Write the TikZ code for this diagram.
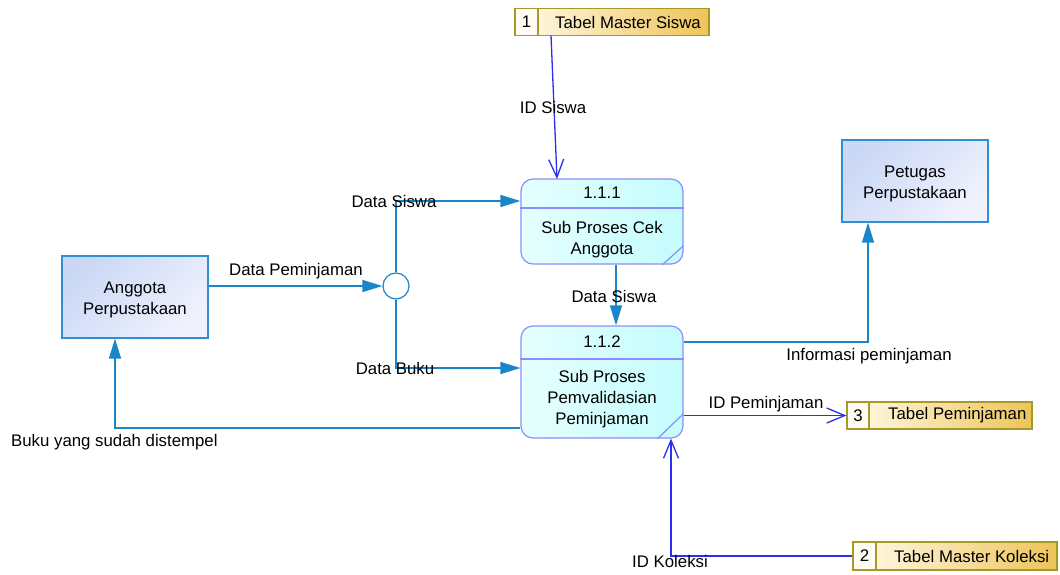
\documentclass[tikz,border=0pt]{standalone}
\usepackage{fontspec}
\setmainfont{Liberation Sans}
\usetikzlibrary{arrows.meta,calc}

\definecolor{flowc}{HTML}{1A85C8}
\definecolor{idc}{HTML}{2E2EF0}
\definecolor{procb}{HTML}{8C8CFF}
\definecolor{procA}{HTML}{E6FFFF}
\definecolor{procB}{HTML}{C4FCFC}
\definecolor{entb}{HTML}{2F8FD0}
\definecolor{entA}{HTML}{CAD8F6}
\definecolor{entB}{HTML}{F0F2FD}
\definecolor{storeb}{HTML}{A8982A}
\definecolor{storeA}{HTML}{FFFBEA}
\definecolor{storeB}{HTML}{EEC458}
\definecolor{storeN}{HTML}{FFFDF3}

\tikzset{
  every node/.style={font=\fontsize{16.8}{21}\selectfont, inner sep=0pt, align=center},
  entity/.style={draw=entb, line width=1.2pt, minimum width=146pt, minimum height=82pt,
    shading=axis, left color=entA, right color=entB, shading angle=45},
  procbox/.style={draw=procb, line width=1.2pt, rounded corners=12pt,
    minimum width=162pt, left color=procA, right color=procB},
  storebox/.style={draw=storeb, line width=1.2pt, left color=storeA, right color=storeB},
  storenum/.style={draw=storeb, line width=1.2pt, fill=storeN, anchor=west},
  junction/.style={circle, draw=flowc, line width=1.2pt, fill=white, minimum size=26pt},
  flow/.style={draw=flowc, line width=1.3pt, -{Triangle[length=20pt,width=12pt]}},
  idflow/.style={draw=idc, line width=1.3pt, -{Straight Barb[length=18pt,width=15pt,line width=1.3pt]}},
  lbl/.style={text=black, fill=none}
}

\begin{document}
\begin{tikzpicture}[x=1pt,y=-1pt]
\useasboundingbox (0,0) rectangle (1060,574);

% external entities
\node[entity] (ang) at (135,297) {};
\node (angt) at (135,300) {Anggota\\Perpustakaan};
\node[entity] (pet) at (915,181) {};
\node (pett) at (915,184) {Petugas\\Perpustakaan};

% processes
\node[procbox, minimum height=85pt] (p1) at (602,221.5) {};
\draw[procb, line width=1.2pt] (p1.west |- 0,208) -- (p1.east |- 0,208);
\draw[procb, line width=1.2pt] ($(p1.south east)+(0,-19)$) -- ($(p1.south east)+(-21,0)$);
\node (p1id) at (602,193) {1.1.1};
\node (p1t) at (602,240) {Sub Proses Cek\\Anggota};

\node[procbox, minimum height=112pt] (p2) at (602,382) {};
\draw[procb, line width=1.2pt] (p2.west |- 0,359) -- (p2.east |- 0,359);
\draw[procb, line width=1.2pt] ($(p2.south east)+(0,-25)$) -- ($(p2.south east)+(-26,0)$);
\node (p2id) at (602,342) {1.1.2};
\node (p2t) at (602,399.5) {Sub Proses\\Pemvalidasian\\Peminjaman};

% data stores
\node[storebox, minimum width=194pt, minimum height=27pt] (ds1) at (612,22) {};
\node[storenum, minimum width=23pt, minimum height=27pt] (ds1n) at (ds1.west) {1};
\node[anchor=west] (ds1t) at (555,22) {Tabel Master Siswa};

\node[storebox, minimum width=185pt, minimum height=27pt] (ds3) at (939.5,415.5) {};
\node[storenum, minimum width=22pt, minimum height=27pt] (ds3n) at (ds3.west) {3};
\node[anchor=west] (ds3t) at (888,415.5) {Tabel Peminjaman};

\node[storebox, minimum width=204pt, minimum height=28pt] (ds2) at (955,556) {};
\node[storenum, minimum width=23pt, minimum height=28pt] (ds2n) at (ds2.west) {2};
\node[anchor=west] (ds2t) at (894,556) {Tabel Master Koleksi};

% junction
\node[junction] (jn) at (396,286) {};

% flows
\draw[flow] (ang.east |- jn.west) -- (jn.west);
\coordinate (jt) at (jn.north |- 0,201);
\coordinate (jb) at (jn.south |- 0,368);
\draw[flow] (jn.north) -- (jt) -- (p1.west |- jt);
\draw[flow] (jn.south) -- (jb) -- (p2.west |- jb);
\draw[flow] (p1.south -| 616,0) -- (p2.north -| 616,0);

% to the staff entity and back to the member entity
\coordinate (pi) at (868,342);
\draw[flow] (p2.east |- pi) -- (pi) -- (pi |- pet.south);
\coordinate (bk) at (115,428);
\draw[flow] (p2.west |- bk) -- (bk) -- (bk |- ang.south);

\coordinate (s1a) at (551,35.5);
\coordinate (s1b) at (557,179);
\draw[idflow] (s1a) -- (s1b);
\draw[idflow] (p2.east |- ds3.west) -- (ds3.west);
\coordinate (kl) at (671,556);
\draw[idflow] (ds2.west) -- (kl) -- (kl |- p2.south);

% flow labels
\node[lbl] (l1) at (553,107) {ID Siswa};
\node[lbl] (l2) at (394,201) {Data Siswa};
\node[lbl] (l3) at (296,271) {Data Peminjaman};
\node[lbl] (l4) at (395,368) {Data Buku};
\node[lbl] (l5) at (614,296) {Data Siswa};
\node[lbl] (l6) at (869,356) {Informasi peminjaman};
\node[lbl] (l7) at (766,404) {ID Peminjaman};
\node[lbl, anchor=west] (l8) at (11,442) {Buku yang sudah distempel};
\node[lbl] (l9) at (670,561) {ID Koleksi};
\end{tikzpicture}
\end{document}
